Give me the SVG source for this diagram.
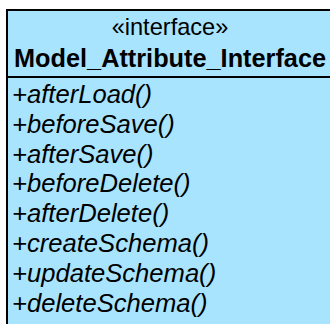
<svg xmlns="http://www.w3.org/2000/svg" width="330" height="324" viewBox="0 0 330 324">
<style>
.box{fill:#A9E4FF;stroke:#000;stroke-width:2}
.st{font-family:"Liberation Sans",Arial,sans-serif;font-size:23.6px;fill:#000}
.nm{font-family:"Liberation Sans",Arial,sans-serif;font-size:25.3px;font-weight:bold;fill:#000}
.op{font-family:"Liberation Sans",Arial,sans-serif;font-size:25.6px;font-style:italic;fill:#000}
</style>
<rect width="330" height="324" fill="#fff"/>
<g id="Model_Attribute_Interface">
<rect class="box" x="7" y="10" width="340" height="340"/>
<line x1="7" y1="77" x2="347" y2="77" stroke="#000" stroke-width="2"/>
<text class="st" x="170" y="35" text-anchor="middle">«interface»</text>
<text class="nm" x="14" y="67">Model_Attribute_Interface</text>
<text class="op" x="12" y="103">+afterLoad()</text>
<text class="op" x="12" y="133">+beforeSave()</text>
<text class="op" x="12" y="163">+afterSave()</text>
<text class="op" x="12" y="192">+beforeDelete()</text>
<text class="op" x="12" y="222">+afterDelete()</text>
<text class="op" x="12" y="252">+createSchema()</text>
<text class="op" x="12" y="282">+updateSchema()</text>
<text class="op" x="12" y="312">+deleteSchema()</text>
</g>
</svg>
